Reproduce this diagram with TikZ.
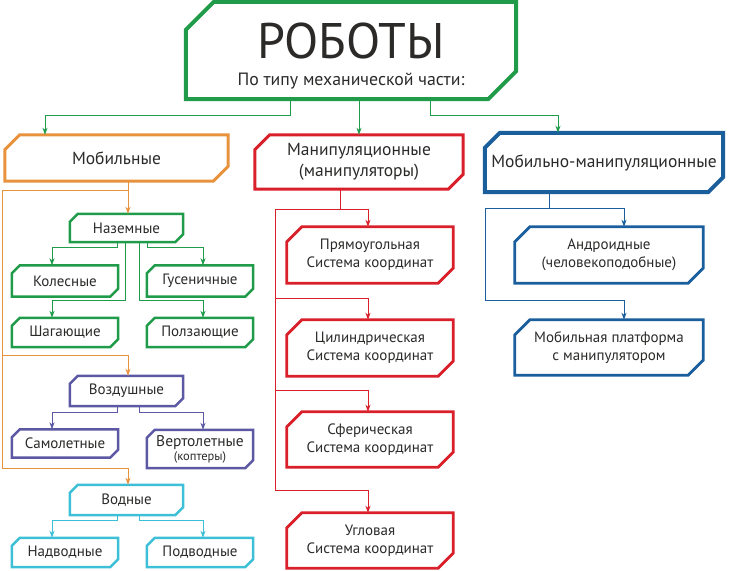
\documentclass[tikz,border=0pt]{standalone}
\usepackage{fontspec}
\setmainfont{PT Sans}
\usetikzlibrary{arrows.meta}

\definecolor{rgreen}{HTML}{1F9B4A}
\definecolor{rorange}{HTML}{E8923D}
\definecolor{rred}{HTML}{D81F2A}
\definecolor{rblue}{HTML}{1B5E9C}
\definecolor{rpurple}{HTML}{5C58A3}
\definecolor{rcyan}{HTML}{3DBFD8}
\definecolor{rtext}{HTML}{2B2A29}

\tikzset{
  cbox/.style n args={3}{rectangle, inner sep=0pt, align=center, text=rtext,
    append after command={\pgfextra{%
      \draw[draw=#1, line width=#2, line join=miter]
        ([yshift=-#3]\tikzlastnode.north west) -- ([xshift=#3]\tikzlastnode.north west)
        -- (\tikzlastnode.north east) -- ([yshift=#3]\tikzlastnode.south east)
        -- ([xshift=-#3]\tikzlastnode.south east) -- (\tikzlastnode.south west) -- cycle;}}},
  catbox/.style={cbox={#1}{3pt}{15pt}, minimum height=46pt, font=\fontsize{17.5}{20.5}\selectfont},
  subbox/.style={cbox={#1}{2.5pt}{8pt}, minimum width=106pt, minimum height=30pt, font=\fontsize{15}{17}\selectfont},
  sysbox/.style={cbox={#1}{2.8pt}{15pt}, minimum height=56pt, font=\fontsize{15}{18}\selectfont},
  arr/.style={draw=#1, line width=1pt, -{Stealth[length=7pt,width=5pt,inset=2pt]}},
}

\begin{document}
\begin{tikzpicture}[x=1pt,y=-1pt]
\useasboundingbox (0,0) rectangle (730,570);
% top
\node[cbox={rgreen}{4pt}{28pt}, minimum width=330pt, minimum height=97pt] (title) at (351,50.5)
  {\rule{0pt}{47pt}{\fontsize{50}{50}\selectfont РОБОТЫ}\\[13pt]{\fontsize{17.8}{20}\selectfont По типу механической части:}};
% categories
\node[catbox=rorange, minimum width=223pt] (mob) at (116.5,158) {Мобильные};
\node[catbox=rred, minimum width=208pt, minimum height=54pt] (man) at (359,162) {Манипуляционные\\(манипуляторы)};
\node[cbox={rblue}{4pt}{15pt}, minimum width=238pt, minimum height=59pt, font=\fontsize{17.5}{20}\selectfont] (mm) at (604,162.5) {Мобильно-манипуляционные};
% mobile
\node[subbox=rgreen, minimum width=113pt, minimum height=28pt] (naz) at (126.5,228) {Наземные};
\node[subbox=rgreen, minimum height=31pt] (kol) at (65,281) {Колесные};
\node[subbox=rgreen, minimum height=31pt] (gus) at (200,281) {Гусеничные};
\node[subbox=rgreen, minimum height=29pt] (shag) at (65,332.5) {Шагающие};
\node[subbox=rgreen, minimum height=29pt] (polz) at (200,332.5) {Ползающие};
\node[subbox=rpurple, minimum width=113pt] (voz) at (126.5,391) {Воздушные};
\node[subbox=rpurple, minimum height=28pt] (sam) at (65,443.5) {Самолетные};
\node[subbox=rpurple, minimum height=38pt] (vert) at (200,449) {{\fontsize{15.5}{17}\selectfont Вертолетные}\\[-3pt]{\fontsize{12.5}{14}\selectfont(коптеры)}};
\node[subbox=rcyan, minimum width=113pt] (vod) at (126.5,500) {Водные};
\node[subbox=rcyan, minimum height=29pt] (nad) at (65,552.5) {Надводные};
\node[subbox=rcyan, minimum height=29pt] (pod) at (200,552.5) {Подводные};
% manipulators
\node[sysbox=rred, minimum width=166pt] (pr) at (370,255) {Прямоугольная\\Система координат};
\node[sysbox=rred, minimum width=166pt] (cyl) at (370,348) {Цилиндрическая\\Система координат};
\node[sysbox=rred, minimum width=166pt, minimum height=55pt] (sph) at (370,439.5) {Сферическая\\Система координат};
\node[sysbox=rred, minimum width=166pt, minimum height=55pt] (ugl) at (370,540.5) {Угловая\\Система координат};
% mobile manipulators
\node[sysbox=rblue, minimum width=188pt] (andr) at (609,255) {Андроидные\\(человекоподобные)};
\node[sysbox=rblue, minimum width=188pt, minimum height=55pt] (plat) at (609,347.5) {Мобильная платформа\\с манипулятором};

% connectors
\draw[arr=rgreen] (title.south -| 290,0) -- (290,115) -| (mob.north -| 45,0);
\draw[arr=rgreen] (man.north |- title.south) -- (man.north);
\draw[arr=rgreen] (title.south -| 430,0) -- (430,115) -| (mm.north -| 558,0);
\draw[arr=rorange] (mob.south -| 128,0) -- (naz.north -| 128,0);
\draw[arr=rorange] (128,190) -- (2,190) -- (2,355) -| (voz.north -| 128,0);
\draw[arr=rorange] (2,355) -- (2,468) -| (vod.north -| 128,0);
\draw[arr=rgreen] (naz.south -| 117,0) -- (117,247) -| (kol.north -| 52,0);
\draw[arr=rgreen] (naz.south -| 147,0) -- (147,247) -| (gus.north -| 203,0);
\draw[arr=rgreen] (naz.south -| 125,0) -- (125,300) -| (shag.north -| 52,0);
\draw[arr=rgreen] (naz.south -| 139,0) -- (139,300) -| (polz.north -| 203,0);
\draw[arr=rpurple] (voz.south -| 117,0) -- (117,412) -| (sam.north -| 52,0);
\draw[arr=rpurple] (voz.south -| 139,0) -- (139,412) -| (vert.north -| 203,0);
\draw[arr=rcyan] (vod.south -| 117,0) -- (117,520) -| (nad.north -| 52,0);
\draw[arr=rcyan] (vod.south -| 139,0) -- (139,520) -| (pod.north -| 203,0);
\draw[arr=rred] (man.south -| 340,0) -- (340,209) -| (pr.north -| 368,0);
\draw[arr=rred] (340,209) -- (275,209) |- (368,298) -- (cyl.north -| 368,0);
\draw[arr=rred] (275,298) |- (368,390) -- (sph.north -| 368,0);
\draw[arr=rred] (275,390) |- (368,490) -- (ugl.north -| 368,0);
\draw[arr=rblue] (mm.south -| 549,0) -- (549,208) -| (andr.north -| 624,0);
\draw[arr=rblue] (549,208) -- (485,208) |- (624,300) -- (plat.north -| 624,0);
\end{tikzpicture}
\end{document}
